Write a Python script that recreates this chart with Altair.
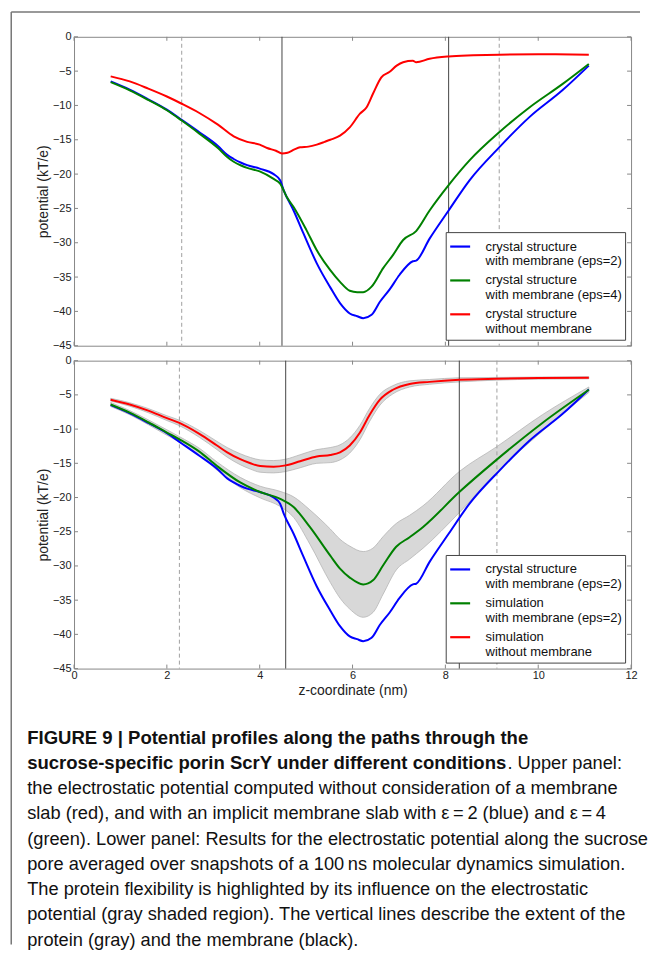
import altair as alt
import pandas as pd

# ---------------- data ----------------
X_TICKS = [0, 2, 4, 6, 8, 10, 12]
Y_TICKS = [0, -5, -10, -15, -20, -25, -30, -35, -40, -45]

TOP_LABELS = ["crystal structure|with membrane (eps=2)",
              "crystal structure|with membrane (eps=4)",
              "crystal structure|without membrane"]
BOTTOM_LABELS = ["crystal structure|with membrane (eps=2)",
                 "simulation|with membrane (eps=2)",
                 "simulation|without membrane"]
SERIES_COLORS = ["#0000ff", "#008000", "#ff0000"]

# crystal structure with membrane (eps=2) -- both panels
BLUE_X = [0.79, 1.2, 1.6, 2.0, 2.32, 2.7, 3.1, 3.3, 3.44, 3.6, 3.73, 4.0, 4.3, 4.44, 4.52,
          4.73, 4.94, 5.23, 5.52, 5.73, 5.94, 6.1, 6.23, 6.41, 6.59, 6.80, 7.01, 7.30, 7.37,
          7.66, 8.07, 8.52, 9.16, 9.81, 10.52, 11.09]
BLUE_Y = [-6.5, -7.7, -9.1, -10.6, -12.1, -13.9, -15.9, -17.2, -17.8, -18.35, -18.7, -19.2,
          -20.0, -20.9, -22.4, -25.3, -28.6, -33.0, -36.5, -38.8, -40.3, -40.7, -41.0, -40.5,
          -38.6, -36.8, -34.7, -32.7, -32.6, -29.4, -25.3, -20.9, -16.1, -11.7, -7.8, -4.2]

# crystal structure with membrane (eps=4) -- top panel
GREEN4_X = [0.79, 1.2, 1.6, 2.0, 2.32, 2.7, 3.1, 3.3, 3.44, 3.6, 3.73, 4.0, 4.3, 4.44, 4.58,
            4.73, 5.01, 5.23, 5.52, 5.73, 5.94, 6.1, 6.23, 6.41, 6.66, 6.87, 7.09, 7.37, 7.66,
            8.07, 8.52, 9.16, 9.81, 10.52, 11.09]
GREEN4_Y = [-6.6, -7.8, -9.2, -10.7, -12.2, -14.1, -16.2, -17.5, -18.2, -18.75, -19.1, -19.6,
            -20.7, -21.4, -23.3, -24.8, -28.2, -31.1, -34.0, -35.7, -37.0, -37.2, -37.2,
            -36.4, -33.7, -31.8, -29.6, -28.3, -25.3, -21.6, -18.0, -13.9, -10.3, -6.9, -3.96]

# crystal structure without membrane -- top panel
RED_TOP_X = [0.79, 1.2, 1.6, 2.0, 2.32, 2.7, 3.1, 3.44, 3.73, 4.0, 4.16, 4.35, 4.48, 4.6,
             4.75, 4.87, 5.05, 5.23, 5.4, 5.52, 5.73, 5.94, 6.16, 6.30, 6.44, 6.62, 6.80,
             6.95, 7.09, 7.30, 7.37, 7.66, 8.07, 8.6, 9.16, 10.0, 11.09]
RED_TOP_Y = [-5.76, -6.5, -7.55, -8.7, -9.75, -11.1, -12.8, -14.5, -15.3, -15.7, -16.2,
             -16.6, -17.0, -16.9, -16.4, -16.1, -16.0, -15.7, -15.3, -15.0, -14.4, -13.2,
             -11.2, -10.3, -8.3, -5.9, -5.1, -4.2, -3.7, -3.5, -3.7, -3.2, -2.86, -2.7,
             -2.6, -2.55, -2.6]

# simulation with membrane (eps=2) -- bottom panel, mean and shaded range
SIM_GREEN_X = [0.79, 1.2, 1.6, 2.0, 2.27, 2.7, 3.08, 3.58, 4.01, 4.44, 4.73, 5.08, 5.52,
               5.73, 5.94, 6.23, 6.44, 6.66, 6.94, 7.23, 7.52, 8.30, 9.1, 10.09, 11.09]
SIM_GREEN_Y = [-6.4, -7.6, -9.0, -10.5, -11.5, -13.3, -15.4, -17.8, -19.2, -20.2, -21.4,
               -24.3, -28.5, -30.4, -31.7, -32.7, -32.1, -29.9, -27.2, -25.8, -24.3, -19.2,
               -14.5, -9.1, -4.25]
SIM_GREEN_HI = [-6.1, -7.3, -8.65, -10.1, -11.1, -12.8, -14.8, -17.05, -18.35, -19.1, -19.9,
                -21.8, -24.6, -26.1, -27.1, -27.9, -27.4, -25.7, -23.8, -22.6, -21.2, -16.2,
                -12.6, -7.9, -3.85]
SIM_GREEN_LO = [-6.7, -7.9, -9.35, -10.9, -11.9, -13.8, -16.0, -18.55, -20.05, -21.3, -22.9,
                -26.8, -32.4, -34.7, -36.3, -37.5, -36.8, -34.1, -30.6, -29.0, -27.4, -22.2,
                -16.4, -10.3, -4.65]

# simulation without membrane -- bottom panel, mean and shaded range
SIM_RED_X = [0.79, 1.2, 1.6, 2.0, 2.27, 2.7, 3.08, 3.3, 3.58, 3.8, 4.01, 4.3, 4.56, 4.87,
             5.23, 5.52, 5.73, 5.94, 6.16, 6.37, 6.59, 6.87, 7.23, 7.66, 8.30, 9.1, 10.0, 11.09]
SIM_RED_Y = [-5.7, -6.4, -7.3, -8.4, -9.1, -10.7, -12.4, -13.4, -14.4, -15.0, -15.4, -15.5,
             -15.3, -14.7, -14.0, -13.8, -13.4, -12.4, -10.5, -7.9, -5.7, -4.25, -3.4, -3.1,
             -2.8, -2.65, -2.55, -2.5]
SIM_RED_HI = [-5.5, -6.15, -7.0, -8.05, -8.7, -10.2, -11.8, -12.7, -13.6, -14.15, -14.5,
              -14.6, -14.4, -13.75, -13.0, -12.7, -12.3, -11.3, -9.45, -6.95, -4.9, -3.65,
              -2.95, -2.75, -2.5, -2.45, -2.4, -2.35]
SIM_RED_LO = [-5.9, -6.65, -7.6, -8.75, -9.5, -11.2, -13.0, -14.1, -15.2, -15.85, -16.3,
              -16.4, -16.2, -15.65, -15.0, -14.9, -14.5, -13.5, -11.55, -8.85, -6.5, -4.85,
              -3.85, -3.45, -3.1, -2.85, -2.7, -2.65]

# extent of the protein (gray dashed) and membrane (black)
TOP_PROTEIN = [2.32, 9.16]
TOP_MEMBRANE = [4.48, 8.07]
BOT_PROTEIN = [2.27, 9.11]
BOT_MEMBRANE = [4.56, 8.30]

CAPTION_BOLD = ["FIGURE 9 | Potential profiles along the paths through the",
                "sucrose-specific porin ScrY under different conditions"]
CAPTION_AFTER_BOLD = ". Upper panel:"
CAPTION_LINES = [
    "the electrostatic potential computed without consideration of a membrane",
    "slab (red), and with an implicit membrane slab with \u03b5\u2009=\u20092 (blue) and \u03b5\u2009=\u20094",
    "(green). Lower panel: Results for the electrostatic potential along the sucrose",
    "pore averaged over snapshots of a 100\u2009ns molecular dynamics simulation.",
    "The protein flexibility is highlighted by its influence on the electrostatic",
    "potential (gray shaded region). The vertical lines describe the extent of the",
    "protein (gray) and the membrane (black).",
]

# ---------------- styling ----------------
FONT = "Liberation Sans"
W = 559
H_TOP = 310
H_BOT = 309
GAP = 15
CAP_SIZE = 18.3
CAP_BOLD_SIZE = 18.6
CAP_X = -47
CAP_Y0 = 384.5
CAP_DY = 25.3
BOLD2_WIDTH = 482

XS = alt.Scale(domain=[0, 12], nice=False, zero=False)
YS = alt.Scale(domain=[-45, 0], nice=False, zero=False)

Y_AXIS = alt.Axis(values=Y_TICKS, format="d", tickSize=0, domain=False, grid=False,
                  labelFont=FONT, labelFontSize=11, labelColor="#222", labelPadding=3,
                  labelFlush=False, title="potential (kT/e)", titleFont=FONT,
                  titleFontSize=14, titleFontWeight="normal", titleColor="#222",
                  titlePadding=2)
X_AXIS = alt.Axis(values=X_TICKS, format="d", tickSize=0, domain=False, grid=False,
                  labelFont=FONT, labelFontSize=11, labelColor="#222", labelPadding=1,
                  labelFlush=False, title="z-coordinate (nm)", titleFont=FONT,
                  titleFontSize=14, titleFontWeight="normal", titleColor="#222",
                  titlePadding=3)


def xenc(field, axis):
    return alt.X(field, type="quantitative", scale=XS, axis=axis)


def yenc(field):
    return alt.Y(field, type="quantitative", scale=YS, axis=Y_AXIS)


def long_df(labels, xs, ys):
    rows = []
    for lab, xx, yy in zip(labels, xs, ys):
        for a, b in zip(xx, yy):
            rows.append({"x": a, "y": b, "series": lab})
    return pd.DataFrame(rows)


def legend():
    return alt.Legend(title=None, orient="bottom-right", offset=6, symbolType="stroke",
                      symbolSize=400, symbolStrokeWidth=2.2, labelFont=FONT,
                      labelFontSize=13, labelColor="#111",
                      labelExpr="split(datum.label, '|')", labelOffset=14,
                      labelLimit=400, strokeColor="#444444", fillColor="white",
                      padding=3, rowPadding=0, cornerRadius=0)


def marker_rules(protein, membrane, axis):
    prot = alt.Chart(pd.DataFrame({"x": protein})).mark_rule(
        color="#a0a0a0", strokeWidth=1, strokeDash=[4, 3]).encode(x=xenc("x", axis))
    memb = alt.Chart(pd.DataFrame({"x": membrane})).mark_rule(
        color="#444444", strokeWidth=1).encode(x=xenc("x", axis))
    return [prot, memb]


def inner_ticks(h, axis):
    xt = pd.DataFrame({"v": X_TICKS})
    yt = pd.DataFrame({"v": Y_TICKS})
    st = dict(color="#888888", strokeWidth=1)
    return [
        alt.Chart(xt).mark_rule(**st).encode(x=xenc("v", axis), y=alt.value(h), y2=alt.value(h - 4)),
        alt.Chart(xt).mark_rule(**st).encode(x=xenc("v", axis), y=alt.value(0), y2=alt.value(4)),
        alt.Chart(yt).mark_rule(**st).encode(y=yenc("v"), x=alt.value(0), x2=alt.value(4)),
        alt.Chart(yt).mark_rule(**st).encode(y=yenc("v"), x=alt.value(W - 4), x2=alt.value(W)),
    ]


# ---------------- top panel ----------------
top_df = long_df(TOP_LABELS, [BLUE_X, GREEN4_X, RED_TOP_X], [BLUE_Y, GREEN4_Y, RED_TOP_Y])
top_lines = alt.Chart(top_df).mark_line(strokeWidth=2, interpolate="monotone").encode(
    x=xenc("x", None), y=yenc("y"),
    color=alt.Color("series:N", scale=alt.Scale(domain=TOP_LABELS, range=SERIES_COLORS),
                    legend=legend()),
)
dummy = pd.DataFrame({"a": [0]})
border_top = alt.Chart(dummy).mark_rule(color="#777777", strokeWidth=1.5).encode(
    x=alt.value(-63), x2=alt.value(568), y=alt.value(-25))
border_left = alt.Chart(dummy).mark_rule(color="#777777", strokeWidth=1.5).encode(
    x=alt.value(-63), y=alt.value(-25), y2=alt.value(911))

top = alt.layer(*marker_rules(TOP_PROTEIN, TOP_MEMBRANE, None), top_lines,
                *inner_ticks(H_TOP, None), border_top, border_left).properties(
    width=W, height=H_TOP)

# ---------------- bottom panel ----------------
band_df = pd.concat([
    pd.DataFrame({"x": SIM_GREEN_X, "lo": SIM_GREEN_LO, "hi": SIM_GREEN_HI, "band": "green"}),
    pd.DataFrame({"x": SIM_RED_X, "lo": SIM_RED_LO, "hi": SIM_RED_HI, "band": "red"}),
])
bands = alt.Chart(band_df).mark_area(fill="#d8d8d8", stroke="#b5b5b5", strokeWidth=0.8,
                                      interpolate="monotone").encode(
    x=xenc("x", X_AXIS), y=yenc("lo"), y2="hi", detail="band:N")

bot_df = long_df(BOTTOM_LABELS, [BLUE_X, SIM_GREEN_X, SIM_RED_X], [BLUE_Y, SIM_GREEN_Y, SIM_RED_Y])
bot_lines = alt.Chart(bot_df).mark_line(strokeWidth=2, interpolate="monotone").encode(
    x=xenc("x", X_AXIS), y=yenc("y"),
    color=alt.Color("series:N", scale=alt.Scale(domain=BOTTOM_LABELS, range=SERIES_COLORS),
                    legend=legend()),
)

caption_layers = []
for i, line in enumerate(CAPTION_BOLD):
    caption_layers.append(
        alt.Chart(pd.DataFrame({"t": [line]})).mark_text(
            align="left", baseline="alphabetic", font=FONT, fontSize=CAP_BOLD_SIZE,
            fontWeight="bold", color="#111111").encode(
            text="t:N", x=alt.value(CAP_X), y=alt.value(CAP_Y0 + i * CAP_DY)))
caption_layers.append(
    alt.Chart(pd.DataFrame({"t": [CAPTION_AFTER_BOLD]})).mark_text(
        align="left", baseline="alphabetic", font=FONT, fontSize=CAP_SIZE,
        color="#111111").encode(
        text="t:N", x=alt.value(CAP_X + BOLD2_WIDTH), y=alt.value(CAP_Y0 + CAP_DY)))
for j, line in enumerate(CAPTION_LINES):
    caption_layers.append(
        alt.Chart(pd.DataFrame({"t": [line]})).mark_text(
            align="left", baseline="alphabetic", font=FONT, fontSize=CAP_SIZE,
            color="#111111").encode(
            text="t:N", x=alt.value(CAP_X), y=alt.value(CAP_Y0 + (j + 2) * CAP_DY)))

bottom = alt.layer(bands, *marker_rules(BOT_PROTEIN, BOT_MEMBRANE, X_AXIS), bot_lines,
                   *inner_ticks(H_BOT, X_AXIS), *caption_layers).properties(
    width=W, height=H_BOT)

chart = alt.vconcat(top, bottom, spacing=GAP, bounds="flush").resolve_scale(
    color="independent").resolve_legend(color="independent").configure_view(
    stroke="#888888", strokeWidth=1).properties(
    padding={"left": 1.25, "top": 0.25, "right": 0, "bottom": 0},
    background="white")

chart.save("out.html", embed_options={"renderer": "svg", "actions": False})
